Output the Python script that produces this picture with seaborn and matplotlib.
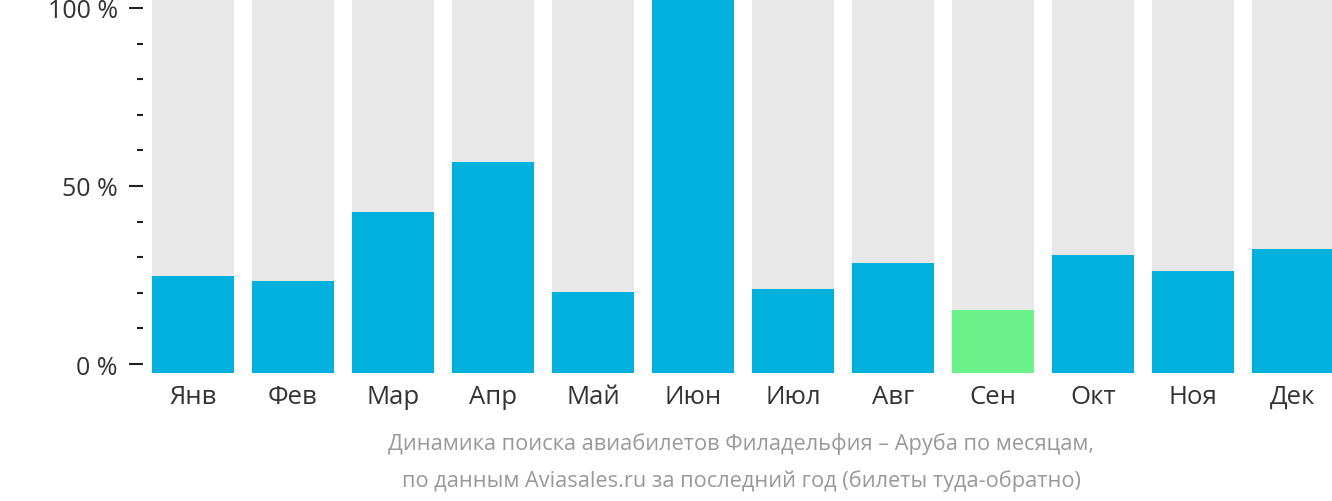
import numpy as np
import pandas as pd
import matplotlib
matplotlib.use('Agg')
import matplotlib.pyplot as plt
import seaborn as sns
from matplotlib.ticker import MultipleLocator

#%% data
months = ['Янв', 'Фев', 'Мар', 'Апр', 'Май', 'Июн', 'Июл', 'Авг', 'Сен', 'Окт', 'Ноя', 'Дек']
share = [24.7, 23.3, 42.7, 56.7, 20.2, 102.5, 21.1, 28.4, 15.2, 30.6, 26.1, 32.3]
lowest = 'Сен'
y_top = 102.5
y_bottom = -2.5

df = pd.DataFrame({'month': months, 'share': share})
df['full'] = y_top - y_bottom
bar_colors = ['#6cf28a' if m == lowest else '#00b1dd' for m in months]

#%% plot
sns.set_style('white')
plt.rcParams['font.family'] = ['Open Sans', 'DejaVu Sans']

fig = plt.figure(figsize=(13.32, 5.02), dpi=100)
ax = fig.add_axes([143 / 1332, 1 - 374 / 502, (1332 - 143) / 1332, 374 / 502])

sns.barplot(data=df, x='month', y='full', color='#e8e8e8', width=0.82,
            bottom=y_bottom, ax=ax, saturation=1, linewidth=0)
sns.barplot(data=df, x='month', y='share', hue='month', palette=bar_colors,
            width=0.82, legend=False, ax=ax, saturation=1, linewidth=0)
# blue bars start from the bottom of the axes too
for p, v in zip(ax.patches[len(months):], share):
    p.set_y(y_bottom)
    p.set_height(v - y_bottom)

ax.set_xlim(-0.5, 11.39)
ax.set_ylim(y_bottom, y_top)
ax.set_xlabel('')
ax.set_ylabel('')
sns.despine(ax=ax, left=True, bottom=True)

ax.yaxis.set_major_locator(MultipleLocator(50))
ax.yaxis.set_minor_locator(MultipleLocator(10))
ax.set_yticks([0, 50, 100])
ax.set_yticklabels(['0 %', '50 %', '100 %'])
ax.tick_params(axis='y', which='major', length=10, width=1.5, color='#222222',
               labelsize=18, labelcolor='#333333', pad=8, left=True)
ax.tick_params(axis='y', which='minor', length=4.3, width=1.5, color='#222222', left=True)
ax.tick_params(axis='x', length=0, labelsize=18.5, labelcolor='#333333', pad=8)

fig.text(741 / 1332, 1 - 444 / 502, 'Динамика поиска авиабилетов Филадельфия – Аруба по месяцам,',
         ha='center', va='center', fontsize=15.7, color='#999999')
fig.text(741 / 1332, 1 - 481 / 502, 'по данным Aviasales.ru за последний год (билеты туда-обратно)',
         ha='center', va='center', fontsize=15.7, color='#999999')

fig.savefig('out.png', dpi=100)
